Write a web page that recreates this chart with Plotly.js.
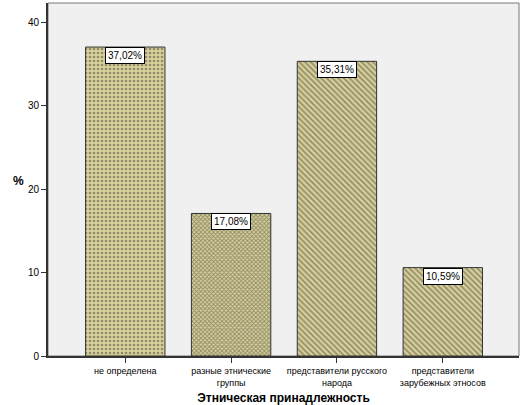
<!DOCTYPE html>
<html>
<head>
<meta charset="utf-8">
<script src="https://cdn.plot.ly/plotly-3.0.1.min.js"></script>
<style>html,body{margin:0;padding:0;background:#fff;}#chart{width:530px;height:405px;}</style>
</head>
<body>
<div id="chart"></div>
<script>
var categories = ['не определена', 'разные этнические<br>группы', 'представители русского<br>народа', 'представители<br>зарубежных этносов'];
var values = [37.02, 17.08, 35.31, 10.59];
var valueLabels = ['37,02%', '17,08%', '35,31%', '10,59%'];
var yTicks = [0, 10, 20, 30, 40];

var trace = {
  type: 'bar',
  x: categories,
  y: values,
  width: 0.75,
  marker: {
    color: '#D8D09A',
    line: {color: '#333333', width: 1},
    pattern: {
      shape: ['.', 'x', '\\', '\\'],
      fgcolor: '#45453a',
      bgcolor: '#D8D09A',
      size: [4, 3, 4, 4],
      solidity: [0.35, 0.5, 0.4, 0.4],
      fillmode: 'overlay'
    }
  },
  hoverinfo: 'none'
};

var annotations = values.map(function(v, i) {
  return {
    x: categories[i], y: v, xref: 'x', yref: 'y',
    text: valueLabels[i], showarrow: false,
    yanchor: 'top', yshift: 0,
    bgcolor: '#ffffff', bordercolor: '#000000', borderwidth: 1, borderpad: 2,
    font: {family: 'Liberation Sans, Arial, sans-serif', size: 10, color: '#000'}
  };
});
annotations.push({
  xref: 'paper', yref: 'paper', x: -0.062, y: 0.495, xanchor: 'center', yanchor: 'middle',
  text: '<b>%</b>', showarrow: false,
  font: {family: 'Liberation Sans, Arial, sans-serif', size: 12, color: '#000'}
});

var layout = {
  width: 530, height: 405,
  margin: {l: 48, r: 11, t: 3, b: 49},
  paper_bgcolor: '#ffffff',
  plot_bgcolor: '#F0F0F0',
  showlegend: false,
  font: {family: 'Liberation Sans, Arial, sans-serif', size: 10, color: '#000'},
  xaxis: {
    type: 'category',
    range: [-0.73, 3.72],
    showline: true, linecolor: '#333333', linewidth: 2,
    ticks: 'outside', ticklen: 5, tickcolor: '#333', tickwidth: 1,
    showgrid: false, zeroline: false,
    tickfont: {size: 9},
    title: {text: '<b>Этническая принадлежность</b>', font: {size: 12}, standoff: 7}
  },
  yaxis: {
    range: [0, 42.3],
    tickvals: yTicks,
    ticktext: yTicks.map(String),
    showline: true, linecolor: '#333333', linewidth: 2,
    ticks: 'outside', ticklen: 5, tickcolor: '#333', tickwidth: 1,
    showgrid: false, zeroline: false,
    tickfont: {size: 10}
  },
  annotations: annotations,
  shapes: [{
    type: 'rect', xref: 'paper', yref: 'paper', x0: 0, x1: 1, y0: 0, y1: 1,
    line: {color: '#777777', width: 1}, layer: 'below'
  }],
  bargap: 0.25
};

Plotly.newPlot('chart', [trace], layout, {displayModeBar: false, staticPlot: true});
</script>
</body>
</html>
